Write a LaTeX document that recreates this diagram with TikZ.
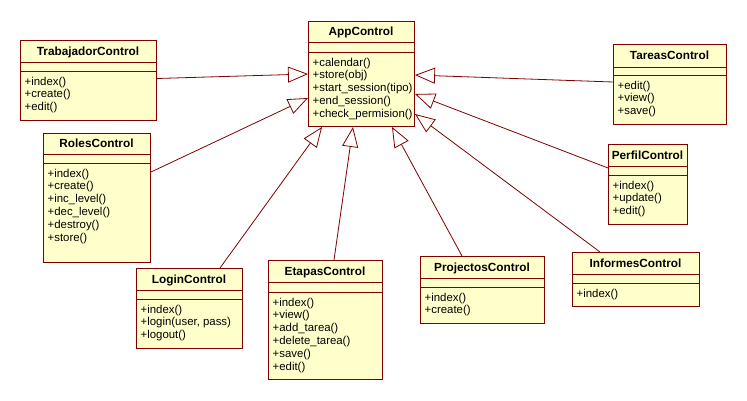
\documentclass[tikz,border=0pt]{standalone}
\usepackage{fontspec}
\setmainfont{Liberation Sans}
\usetikzlibrary{arrows.meta}
\definecolor{umlborder}{HTML}{800000}
\definecolor{umlfill}{HTML}{FFFFCC}
\tikzset{
  umlrect/.style={draw=umlborder, fill=umlfill, line width=1pt, inner sep=0pt, anchor=north west},
  umlsep/.style={draw=umlborder, line width=1pt},
  umltitle/.style={font=\fontsize{11.8}{12.8}\selectfont\bfseries, inner sep=0pt, text height=8.4pt, text depth=2.4pt},
  umlmembers/.style={font=\fontsize{11.4}{12.8}\selectfont, inner sep=0pt, anchor=north west},
  gen/.style={draw=umlborder, line width=0.8pt, -{Triangle[open, length=20pt, width=16pt]}, line join=miter}
}
\newcommand\umlbox[9]{%
  \pgfmathsetmacro\umlw{#4-#2}%
  \pgfmathsetmacro\umlh{#5-#3}%
  \node[umlrect, minimum width=\umlw pt, minimum height=\umlh pt] (#1) at (#2,#3) {};
  \draw[umlsep] (#2,#6) -- (#4,#6);
  \draw[umlsep] (#2,#7) -- (#4,#7);
  \node[umltitle] (#1-t) at ({(#2+#4)/2},{(#3+#6)/2+1}) {#8};
  \node[umlmembers] (#1-m) at ({#2+4.5},{#7+5}) {\begin{tabular}{@{}l@{}}#9\end{tabular}};
}
\begin{document}
\begin{tikzpicture}[x=1pt,y=-1pt]
\useasboundingbox[fill=white] (0,0) rectangle (747,400);

\umlbox{trab}{20}{40}{156}{120}{62}{71}{TrabajadorControl}{+index()\\+create()\\+edit()}
\umlbox{app}{308}{21}{414}{126}{42}{52}{AppControl}{+calendar()\\+store(obj)\\+start\_session(tipo)\\+end\_session()\\+check\_permision()}
\umlbox{tareas}{613}{44}{726}{124}{67}{75}{TareasControl}{+edit()\\+view()\\+save()}
\umlbox{roles}{43}{133}{150}{262}{154}{163}{RolesControl}{+index()\\+create()\\+inc\_level()\\+dec\_level()\\+destroy()\\+store()}
\umlbox{perfil}{608}{144}{687}{224}{166}{175}{PerfilControl}{+index()\\+update()\\+edit()}
\umlbox{login}{136}{268}{242}{348}{290}{299}{LoginControl}{+index()\\+login(user, pass)\\+logout()}
\umlbox{etapas}{268}{260}{382}{379}{282}{292}{EtapasControl}{+index()\\+view()\\+add\_tarea()\\+delete\_tarea()\\+save()\\+edit()}
\umlbox{proj}{420}{256}{544}{323}{278}{287}{ProjectosControl}{+index()\\+create()}
\umlbox{inf}{572}{252}{699}{306}{274}{283}{InformesControl}{+index()}

\draw[gen] ([yshift=2pt]trab.east) -- ([yshift=-53pt]app.north west);
\draw[gen] ([yshift=-39pt]roles.north east) -- ([yshift=-77pt]app.north west);
\draw[gen] ([xshift=84pt]login.north west) -- ([xshift=14pt]app.south west);
\draw[gen] ([xshift=66pt]etapas.north west) -- ([xshift=45pt]app.south west);
\draw[gen] ([xshift=42pt]proj.north west) -- ([xshift=84pt]app.south west);
\draw[gen] ([xshift=28pt]inf.north west) -- ([yshift=13pt]app.south east);
\draw[gen] ([yshift=-24pt]perfil.north west) -- ([yshift=33pt]app.south east);
\draw[gen] ([yshift=-38pt]tareas.north west) -- ([yshift=-54pt]app.north east);
\end{tikzpicture}
\end{document}
